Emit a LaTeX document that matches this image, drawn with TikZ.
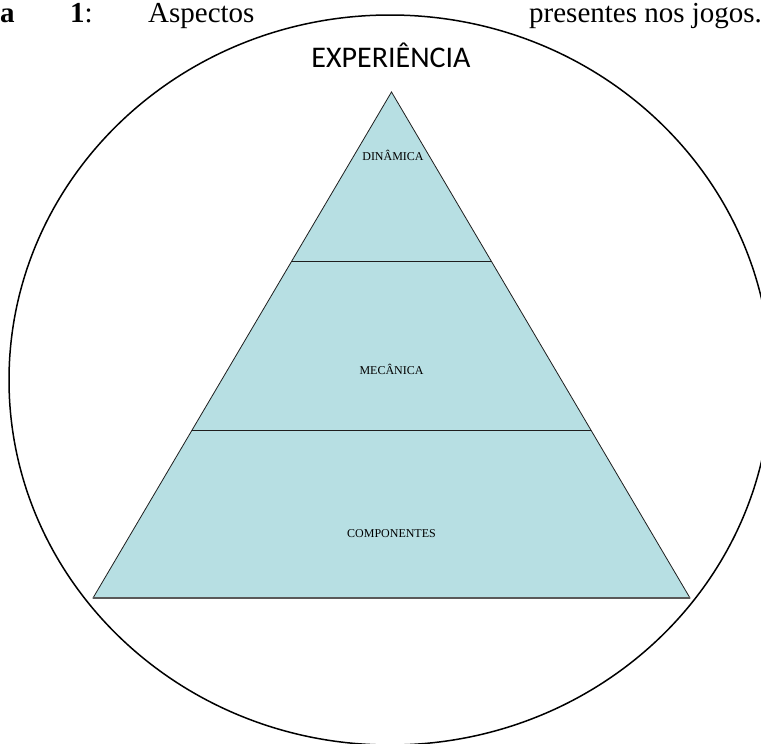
\documentclass[tikz,border=0pt]{standalone}
\usepackage{fontspec}
\setmainfont{Liberation Serif}
\newfontfamily\calib{Carlito}
\definecolor{pyrfill}{RGB}{183,223,227}
\definecolor{pyrline}{RGB}{30,30,30}
\tikzset{
  hdr/.style={anchor=base west,inner sep=0pt,font=\fontsize{29}{33}\selectfont},
  lvl/.style={anchor=base,inner sep=0pt,font=\fontsize{12}{14}\selectfont},
  outer/.style={draw=black,line width=1.5pt},
  pyr/.style={fill=pyrfill,draw=pyrline,line width=0.8pt,line join=miter},
  sep/.style={draw=pyrline,line width=0.9pt}
}
\begin{document}
\begin{tikzpicture}[x=1pt,y=-1pt]
\useasboundingbox (0,0) rectangle (761,744);
\clip (0,0) rectangle (761,744);
% header (partially hidden caption)
\node[hdr] (ha) at (0,22) {\textbf{a}};
\node[hdr] (h1) at (70,22) {\textbf{1}:};
\node[hdr] (h2) at (148,22) {Aspectos};
\node[hdr] (h3) at (529,22) {presentes nos jogos.};
% outer ellipse
\fill[white] (390,380) ellipse [x radius=381, y radius=365];
\draw[outer] (390,380) ellipse [x radius=381, y radius=365];
% pyramid
\coordinate (apex) at (391.5,92);
\coordinate (bl) at (93,598);
\coordinate (br) at (690,598);
\coordinate (l1) at (291.8,261);
\coordinate (r1) at (491.2,261);
\coordinate (l2) at (192.1,430);
\coordinate (r2) at (590.9,430);
\draw[pyr] (apex) -- (br) -- (bl) -- cycle;
\draw[sep] (l1) -- (r1);
\draw[sep] (l2) -- (r2);
\draw[draw=black!65,line width=1.4pt] (bl) -- (br);
% labels
\node[anchor=base,inner sep=0pt,font=\calib\fontsize{30}{34}\selectfont] (exp) at (391,67) {EXPERIÊNCIA};
\node[lvl] (din) at (393,160.5) {DINÂMICA};
\node[lvl] (mec) at (391.5,374) {MECÂNICA};
\node[lvl] (comp) at (391.5,537) {COMPONENTES};
\end{tikzpicture}
\end{document}
